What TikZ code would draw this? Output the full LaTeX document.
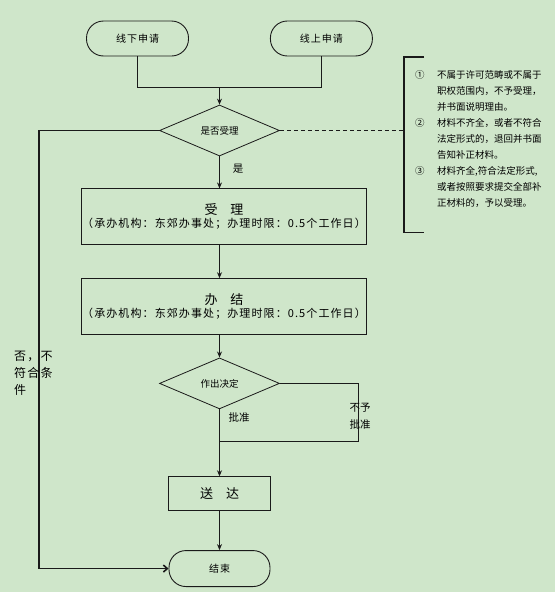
\documentclass[tikz,border=0pt]{standalone}
\usepackage{fontspec}
\setmainfont{Noto Sans CJK SC}
\newfontfamily\widecjk[LetterSpace=10]{Noto Sans CJK SC}
\usepackage{tikz}
\usetikzlibrary{arrows.meta,positioning,shapes.geometric,calc}
\definecolor{paper}{RGB}{207,230,202}
\definecolor{ink}{HTML}{1A1A1A}

\begin{document}
\begin{tikzpicture}[x=1pt,y=1pt,
  term/.style={draw=ink,fill=paper,rounded corners=17pt,line width=0.9pt,
               minimum width=102pt,minimum height=35pt,inner sep=0pt,
               font=\widecjk\fontsize{10}{12}\selectfont},
  stepbox/.style={draw=ink,line width=0.8pt,minimum width=285pt,
                  minimum height=56pt,align=center,inner sep=0pt},
  dec/.style={diamond,draw=ink,line width=0.8pt,minimum width=120pt,
              minimum height=51pt,inner sep=0pt,aspect=2.35,
              font=\fontsize{9.5}{11}\selectfont},
  lbl/.style={font=\fontsize{10.5}{17}\selectfont,inner sep=0pt,align=center},
  note/.style={font=\fontsize{9.5}{16}\selectfont,inner sep=0pt,align=left},
  ar/.style={-{Stealth[length=6pt,width=5pt]},line width=0.8pt,draw=ink},
  ln/.style={line width=0.8pt,draw=ink},
  lp/.style={-{Straight Barb[length=4pt,width=7pt]},line width=1.6pt,draw=ink},
  brk/.style={line width=1.8pt,draw=ink}]
\fill[paper] (0,0) rectangle (555,-592);
\useasboundingbox (0,0) rectangle (555,-592);
% start
\node[term] (off) at (137.5,-38.5) {线下申请};
\node[term,right=81pt of off] (on) {线上申请};
\node[dec] (d1) at (219.5,-130.5) {是否受理};
% steps
\node[stepbox,below=32pt of d1,xshift=4.5pt] (acc)
  {{\fontsize{13}{17}\selectfont 受\quad 理}\\[1pt]
   {\widecjk\fontsize{11}{13}\selectfont （承办机构：东郊办事处；办理时限：0.5个工作日）}};
\node[stepbox,below=33pt of acc,minimum height=55.5pt] (fin)
  {{\fontsize{13}{17}\selectfont 办\quad 结}\\[1pt]
   {\widecjk\fontsize{11}{13}\selectfont （承办机构：东郊办事处；办理时限：0.5个工作日）}};
\node[dec,below=23pt of fin,xshift=-4.5pt] (d2) {作出决定};
\node[stepbox,below=67pt of d2,minimum width=102pt,minimum height=34pt,
      font=\fontsize{13}{15}\selectfont] (send) {送\quad 达};
\node[term,below=39pt of send,minimum width=101pt,minimum height=36pt] (end) {结束};
% helper points
\coordinate (m) at ($(off.south)+(0,-31)$);
\coordinate (nl) at (39,0);
\coordinate (nr) at (358,0);
\coordinate (jn) at (0,-441);
\coordinate (bt) at (404,-57);
\coordinate (bb) at (404,-232.5);
% connectors
\draw[ln] (off.south) -- (m) -| (on.south);
\draw[ar] (d1.north |- m) -- (d1.north);
\draw[ar] (d1.south) -- (d1.south |- acc.north);
\draw[ar] (d1.south |- acc.south) -- (d1.south |- fin.north);
\draw[ar] (d2.north |- fin.south) -- (d2.north);
\draw[ln] (d2.east) -- (d2.east -| nr) |- (d2.south |- jn);
\draw[ar] (d2.south) -- (send.north);
\draw[ar] (send.south) -- (end.north);
\draw[lp] (d1.west) -- (d1.west -| nl) |- (end.west);
\draw[ln,dash pattern=on 4pt off 3pt] (d1.east) -- (d1.east -| bt);
\draw[brk] ($(bt)+(20,0)$) -- (bt) -- (bb) -- ++(20,0);
% labels
\node[lbl] (yes) at (238,-169) {是};
\node[lbl] (ok) at (239,-418) {批准};
\node[lbl] (rej) at (360,-416.5) {不予\\批准};
\node[lbl,font=\widecjk\fontsize{12}{17}\selectfont,align=left,anchor=north west]
  (no) at (14,-350.5) {否，不\\符合条\\件};
\node[note,anchor=north west] (rules) at (415,-70.5)
  {\makebox[22pt][l]{①}不属于许可范畴或不属于\\
   \hspace*{22pt}职权范围内，不予受理，\\
   \hspace*{22pt}并书面说明理由。\\
   \makebox[22pt][l]{②}材料不齐全，或者不符合\\
   \hspace*{22pt}法定形式的，退回并书面\\
   \hspace*{22pt}告知补正材料。\\
   \makebox[22pt][l]{③}材料齐全,符合法定形式,\\
   \hspace*{22pt}或者按照要求提交全部补\\
   \hspace*{22pt}正材料的，予以受理。};
\end{tikzpicture}
\end{document}
